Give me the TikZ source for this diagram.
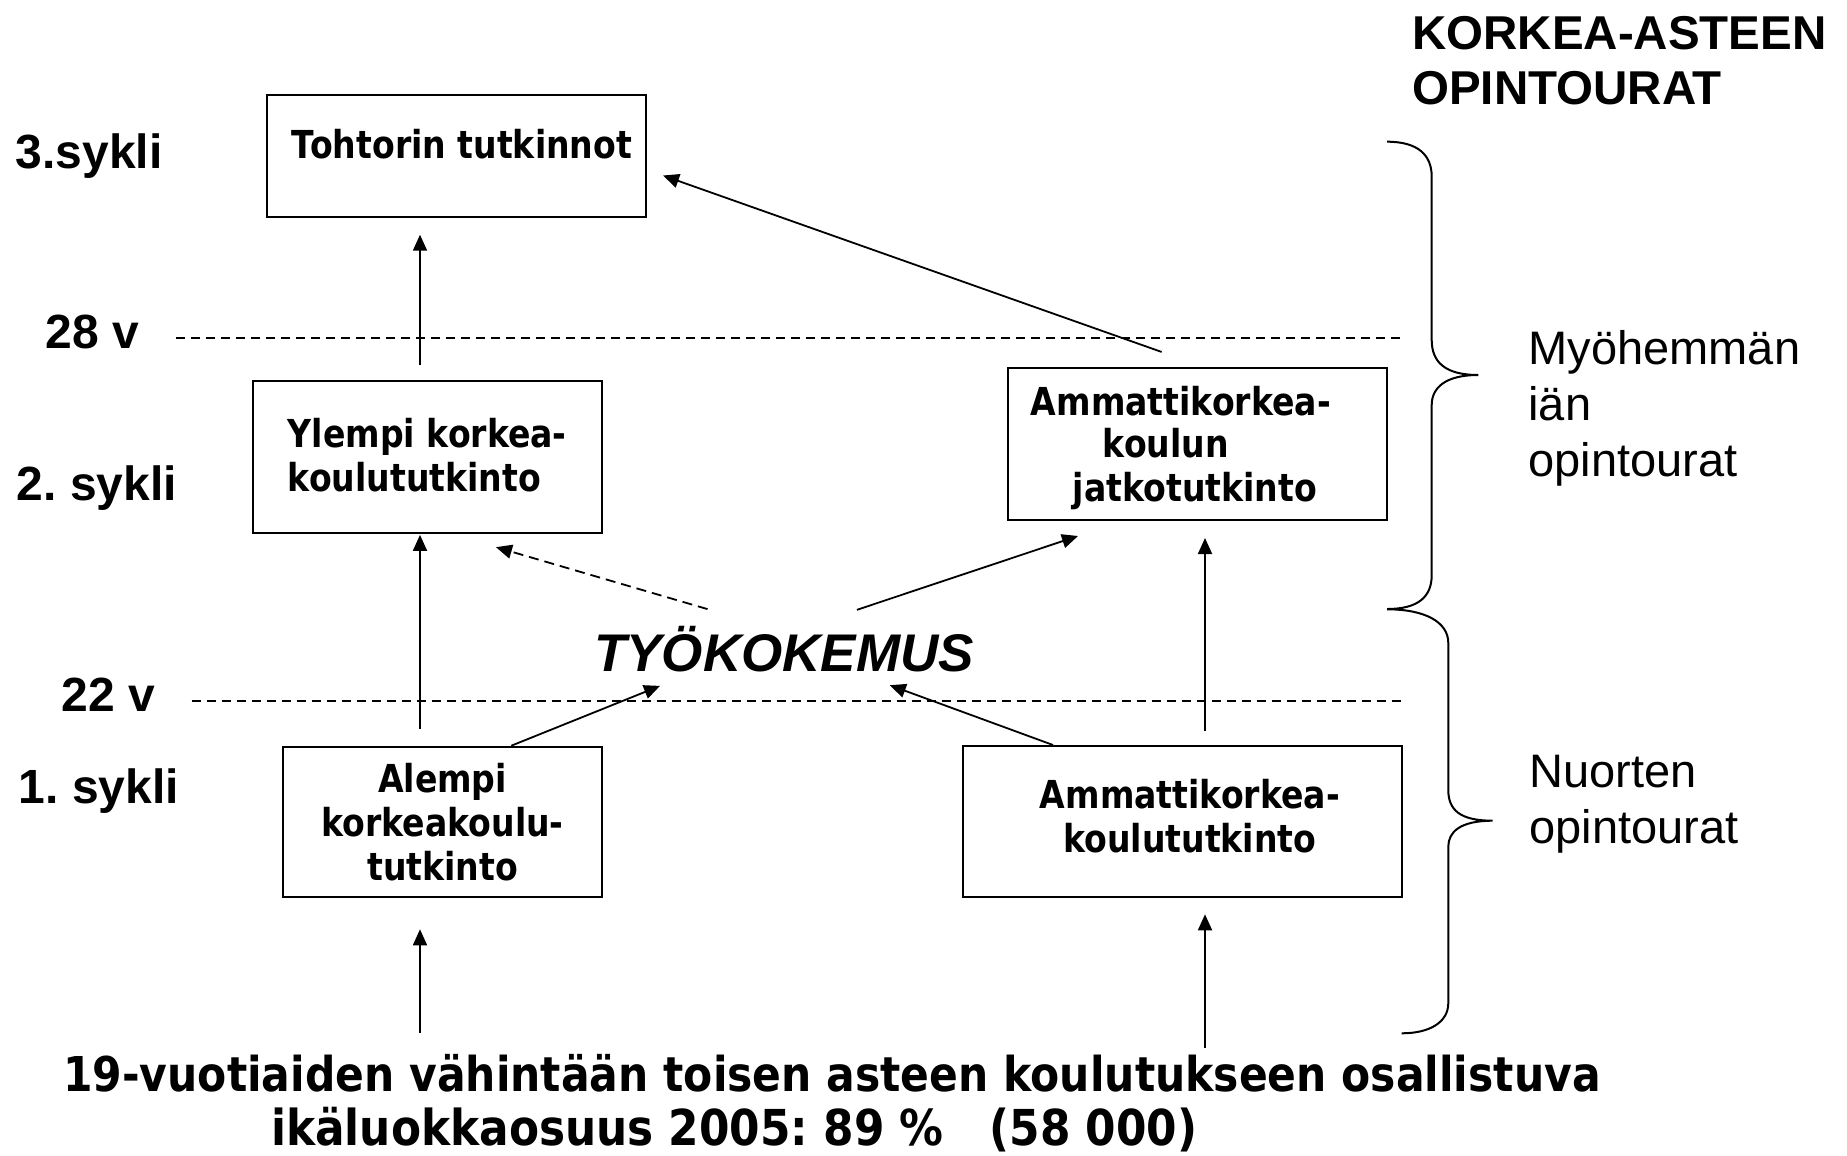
\documentclass[tikz,border=0pt]{standalone}
\usepackage{fontspec}
\setmainfont{Liberation Sans}
\newfontfamily\cyclefont{Liberation Sans}
\newfontfamily\boxfont{DejaVu Sans}[FakeStretch=0.86]
\newfontfamily\basefont{DejaVu Sans}[FakeStretch=0.885]
\usetikzlibrary{arrows.meta}

\begin{document}
\frenchspacing
\begin{tikzpicture}[
  x=1pt, y=-1pt,
  degbox/.style={draw, line width=2pt, align=center, inner sep=0pt,
    font={\boxfont\bfseries\fontsize{38.5}{44}\selectfont}},
  cycle/.style={anchor=base west, inner sep=0pt,
    font={\cyclefont\bfseries\fontsize{48}{48}\selectfont}},
  side/.style={anchor=base west, align=left, inner sep=0pt,
    font={\cyclefont\fontsize{47}{56}\selectfont}},
  sep/.style={line width=2pt, dash pattern=on 9pt off 6pt},
  arr/.style={-{Triangle[length=16pt,width=14pt]}, line width=1.8pt},
  darr/.style={arr, dash pattern=on 10pt off 6pt},
  curly/.style={line width=2pt}
]
\fill[white] (0,0) rectangle (1847,1156);
\useasboundingbox (0,0) rectangle (1847,1156);

%% ==== Degree boxes ====
\node[degbox, minimum width=379pt, minimum height=121.7pt,
  text height=29pt, text depth=24pt] (tohtori) at (456.5,155.85) {\hspace*{11pt}Tohtorin tutkinnot};
\node[degbox, align=left, minimum width=348.7pt, minimum height=151.7pt] (ylempi) at (427.35,457) {Ylempi korkea-\\koulututkinto\rule[-4pt]{0pt}{4pt}};
\node[degbox, align=left, minimum width=379pt, minimum height=151.7pt,
  font={\boxfont\bfseries\fontsize{38.5}{43}\selectfont}] (jatko) at (1197.8,444.15) {\rule{0pt}{36pt}Ammattikorkea-\hspace*{34pt}\\\hspace*{72pt}koulun\\\hspace*{42pt}jatkotutkinto};
\node[degbox, minimum width=318.3pt, minimum height=150.6pt] (alempi) at (442.55,822) {Alempi\\korkeakoulu-\\tutkinto};
\node[degbox, minimum width=439pt, minimum height=151.3pt] (amk) at (1182.8,821.65) {\hspace*{14pt}Ammattikorkea-\\\hspace*{14pt}koulututkinto\rule[-12pt]{0pt}{12pt}};

%% ==== Cycle and age labels ====
\node[cycle] (c3) at (15.6,168.3) {3.sykli};
\node[cycle] (a28) at (45.6,348.3) {28 v};
\node[cycle] (c2) at (16.6,500) {2. sykli};
\node[cycle] (a22) at (61.4,711.7) {22 v};
\node[cycle] (c1) at (18.7,803.3) {1. sykli};

%% ==== Right-hand labels ====
\node[anchor=base west, align=left, inner sep=0pt,
  font={\cyclefont\bfseries\fontsize{47.5}{55}\selectfont}] (title) at (1412,104) {KORKEA-ASTEEN\\OPINTOURAT};
\node[side] (later) at (1528.3,476) {Myöhemmän\\iän\\opintourat};
\node[side] (young) at (1529.3,843.3) {Nuorten\\opintourat};

%% ==== Work experience and cohort ====
\node[inner sep=0pt, text height=38pt, text depth=0pt,
  font={\cyclefont\bfseries\itshape\fontsize{53}{53}\selectfont}] (tyo) at (784,652.7) {TYÖKOKEMUS};
\node[anchor=base west, align=left, inner sep=0pt,
  font={\basefont\bfseries\fontsize{48}{54}\selectfont}] (cohort) at (63,1145)
  {19-vuotiaiden vähintään toisen asteen koulutukseen osallistuva\\\hspace*{208pt}{\fontsize{49.5}{54}\selectfont ikäluokkaosuus 2005: 89~\%~~~(58~000)}};

\coordinate (colL) at (420,0);
\coordinate (colR) at (1205,0);
\coordinate (srcL) at (420,1033);
\coordinate (srcR) at (1205,1048);

%% ==== Age lines ====
\draw[sep] (176,338.3) -- (1402,338.3);
\draw[sep] (191.7,700.7) -- (1402,700.7);

%% ==== Vertical arrows ====
\draw[arr, shorten <=15pt, shorten >=17pt] (colL |- ylempi.north) -- (colL |- tohtori.south);
\draw[arr, shorten <=17pt, shorten >=1pt] (colL |- alempi.north) -- (colL |- ylempi.south);
\draw[arr, shorten >=31pt] (srcL) -- (colL |- alempi.south);
\draw[arr, shorten >=16pt] (srcR) -- (colR |- amk.south);
\draw[arr, shorten <=14pt, shorten >=17pt] (colR |- amk.north) -- (colR |- jatko.south);

%% ==== Slanted arrows ====
\draw[arr, shorten <=46pt, shorten >=17pt] (colR |- jatko.north) -- ([yshift=-14pt]tohtori.east);
\draw[darr] ([xshift=-76.5pt,yshift=24.4pt]tyo.north) -- ([xshift=68.6pt,yshift=-13.3pt]ylempi.south);
\draw[arr] ([xshift=73pt,yshift=23.7pt]tyo.north) -- ([xshift=-119.8pt,yshift=-15pt]jatko.south);
\draw[arr] ([xshift=68.75pt]alempi.north) -- ([xshift=-124pt,yshift=-14pt]tyo.south);
\draw[arr] ([xshift=-129.8pt]amk.north) -- ([xshift=105.8pt,yshift=-13.3pt]tyo.south);

%% ==== Braces ====
\draw[curly] (1387,141.7) .. controls (1418,141.7) and (1431.7,155) .. (1431.7,176.7)
  -- (1431.7,340) .. controls (1431.7,362) and (1445,375) .. (1478.3,375)
  .. controls (1445,375) and (1431.7,388) .. (1431.7,405)
  -- (1431.7,575) .. controls (1431.7,597) and (1418,609) .. (1387,609);
\draw[curly] (1387,609.3) .. controls (1425,609.3) and (1448.3,622) .. (1448.3,643)
  -- (1448.3,790) .. controls (1448.3,810) and (1460,820.7) .. (1492.7,820.7)
  .. controls (1460,820.7) and (1448.3,832) .. (1448.3,846.7)
  -- (1448.3,1003) .. controls (1448.3,1022) and (1430,1033.3) .. (1401.7,1033.3);

\end{tikzpicture}
\end{document}
